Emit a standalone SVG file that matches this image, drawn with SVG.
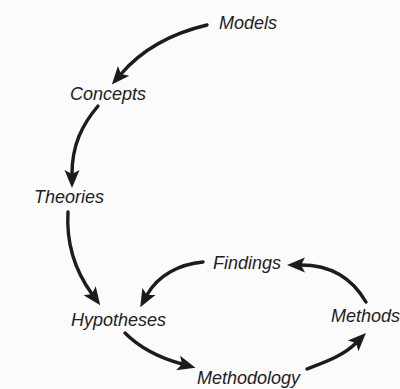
<svg xmlns="http://www.w3.org/2000/svg" width="400" height="389" viewBox="0 0 400 389">
  <style>
    .label { font-family: "Liberation Sans", Arial, sans-serif; font-size: 18px; font-style: italic; fill: #222; }
    .edge { fill: none; stroke: #1c1c1c; stroke-width: 3.4; stroke-linecap: round; marker-end: url(#head); }
  </style>
  <defs>
    <!-- notched arrowhead; the line ends at the notch, the tip sits 14px further on -->
    <marker id="head" markerUnits="userSpaceOnUse" markerWidth="22" markerHeight="18" viewBox="0 0 22 18" refX="6" refY="9" orient="auto">
      <path d="M20,9 L2,1.5 L6,9 L2,16.5 Z" fill="#1c1c1c"/>
    </marker>
  </defs>
  <rect width="400" height="389" fill="#fbfbfb"/>

  <g id="connectors">
    <path class="edge" d="M207,25 Q152,38 121,74"/>
    <path class="edge" d="M98,106 C82,125 72,145 72,174"/>
    <path class="edge" d="M68,212 C66,245 76,272 92,294"/>
    <path class="edge" d="M203,262 C180,264 158,275 147,295"/>
    <path class="edge" d="M366,302 C352,278 330,265 301,265"/>
    <path class="edge" d="M125,333 C140,348 160,358 182,364"/>
    <path class="edge" d="M307,369 C325,362 343,356 356,343"/>
  </g>

  <g id="models"><text class="label" x="219" y="29">Models</text></g>
  <g id="concepts"><text class="label" x="70" y="100">Concepts</text></g>
  <g id="theories"><text class="label" x="34" y="203">Theories</text></g>
  <g id="findings"><text class="label" x="213" y="269">Findings</text></g>
  <g id="hypotheses"><text class="label" x="71" y="326">Hypotheses</text></g>
  <g id="methods"><text class="label" x="331" y="322">Methods</text></g>
  <g id="methodology"><text class="label" x="197" y="384">Methodology</text></g>
</svg>
